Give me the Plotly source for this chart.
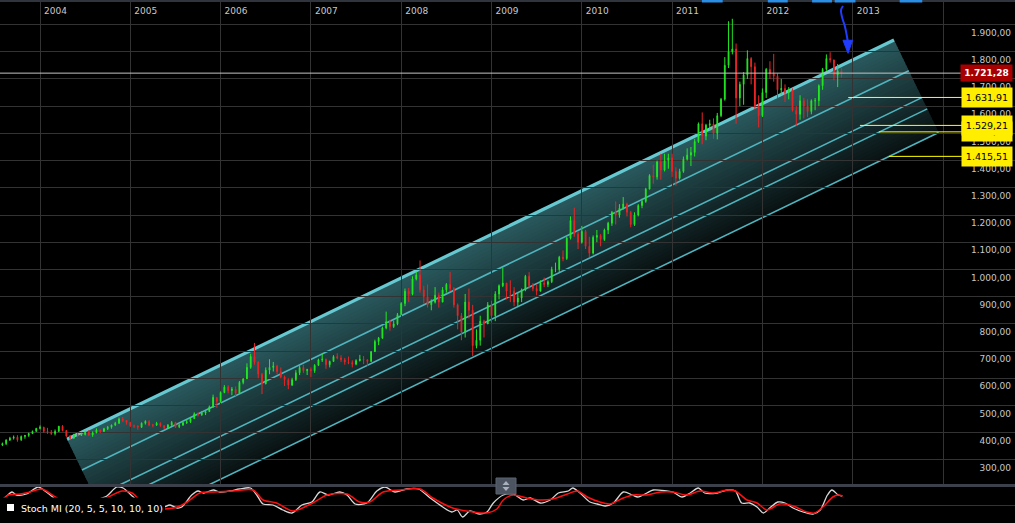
import pandas as pd
import plotly.graph_objects as go

# Gold (USD/oz), semi-monthly bars from 2003-07-15 to 2012-11-15
first_open = 350
bar_high = [
    362, 364, 376, 385, 390, 391, 390, 392, 400, 408, 418,
    427, 422, 418, 410, 412, 425, 428, 410, 392, 396, 399, 400, 408, 410, 405, 416, 412, 418, 425, 430, 440, 456, 458, 446,
    440, 430, 428, 438, 446, 446, 432, 440, 438, 428, 432, 443, 440, 432, 440, 448, 456, 475, 475, 480, 482, 500, 540, 530,
    552, 575, 575, 568, 570, 590, 600, 655, 690, 730, 662, 620, 640, 670, 660, 650, 640, 610, 600, 602, 630, 648, 650, 635,
    640, 652, 672, 690, 672, 665, 685, 692, 685, 675, 680, 666, 670, 686, 682, 670, 700, 742, 752, 790, 845, 815, 812, 840,
    880, 930, 932, 975, 992, 1033, 940, 945, 890, 935, 915, 935, 950, 990, 935, 875, 840, 910, 930, 870, 780, 830, 815, 880,
    885, 920, 945, 1006, 950, 960, 935, 915, 930, 980, 990, 950, 945, 960, 970, 960, 1010, 1025, 1050, 1070, 1120, 1195, 1227, 1140,
    1160, 1145, 1120, 1125, 1145, 1130, 1150, 1175, 1215, 1250, 1240, 1266, 1245, 1215, 1210, 1240, 1260, 1300, 1350, 1385, 1400, 1425, 1425, 1425,
    1425, 1375, 1370, 1415, 1445, 1450, 1480, 1540, 1577, 1535, 1550, 1555, 1575, 1630, 1780, 1912, 1921, 1830, 1690, 1725, 1805, 1780, 1760, 1640,
    1665, 1740, 1765, 1792, 1720, 1700, 1680, 1670, 1665, 1600, 1640, 1630, 1625, 1625, 1630, 1680, 1740, 1790, 1798, 1760, 1755, 1742,
]
bar_low = [
    346, 351, 355, 370, 375, 367, 370, 378, 385, 395, 405,
    412, 400, 396, 392, 390, 404, 405, 385, 373, 378, 385, 389, 390, 388, 385, 398, 399, 403, 410, 415, 425, 432, 440, 430,
    422, 418, 411, 418, 430, 424, 420, 425, 422, 414, 414, 426, 418, 417, 425, 432, 436, 450, 460, 462, 465, 476, 492, 492,
    510, 545, 545, 538, 535, 545, 578, 600, 635, 650, 600, 542, 578, 615, 625, 615, 600, 572, 560, 572, 590, 612, 620, 612,
    605, 620, 645, 660, 635, 640, 660, 670, 660, 650, 652, 640, 648, 662, 652, 645, 662, 698, 722, 745, 780, 775, 785, 795,
    832, 865, 880, 905, 960, 915, 875, 860, 850, 875, 860, 880, 915, 920, 860, 780, 740, 750, 820, 682, 710, 720, 750, 805,
    805, 810, 890, 935, 890, 880, 865, 865, 880, 920, 930, 920, 905, 925, 935, 935, 950, 990, 990, 1030, 1035, 1110, 1120, 1075,
    1095, 1075, 1045, 1055, 1100, 1085, 1105, 1130, 1160, 1165, 1190, 1220, 1195, 1155, 1160, 1195, 1225, 1245, 1295, 1315, 1330, 1330, 1360, 1370,
    1340, 1308, 1330, 1355, 1400, 1380, 1415, 1465, 1460, 1475, 1510, 1480, 1478, 1560, 1620, 1740, 1790, 1535, 1600, 1605, 1700, 1680, 1590, 1522,
    1560, 1630, 1700, 1690, 1630, 1640, 1615, 1625, 1580, 1527, 1550, 1555, 1560, 1570, 1585, 1600, 1660, 1730, 1760, 1695, 1670, 1705,
]
bar_close = [
    355, 360, 373, 380, 384, 374, 386, 390, 397, 405, 416,
    420, 405, 402, 397, 405, 424, 408, 388, 380, 394, 390, 394, 402, 392, 400, 410, 405, 415, 420, 428, 435, 450, 445, 438,
    425, 425, 420, 435, 442, 428, 428, 435, 426, 418, 428, 438, 422, 428, 437, 440, 452, 470, 466, 472, 478, 495, 530, 515,
    548, 568, 555, 560, 545, 585, 598, 640, 680, 660, 615, 580, 630, 640, 645, 625, 605, 595, 575, 595, 620, 640, 628, 632,
    628, 648, 668, 670, 650, 662, 680, 675, 668, 660, 658, 652, 665, 670, 668, 662, 698, 735, 748, 785, 808, 790, 800, 834,
    875, 920, 910, 965, 980, 925, 900, 870, 880, 905, 880, 925, 945, 930, 870, 830, 770, 880, 850, 720, 740, 810, 800, 870,
    830, 910, 940, 950, 920, 920, 880, 895, 925, 975, 940, 930, 920, 950, 945, 955, 1000, 1000, 1045, 1040, 1115, 1180, 1130, 1100,
    1140, 1085, 1060, 1118, 1125, 1110, 1145, 1170, 1210, 1200, 1225, 1240, 1210, 1165, 1200, 1235, 1250, 1295, 1345, 1340, 1395, 1365, 1400, 1410,
    1360, 1335, 1360, 1405, 1420, 1430, 1470, 1535, 1490, 1530, 1535, 1500, 1565, 1625, 1750, 1800, 1810, 1630, 1680, 1715, 1775, 1745, 1600, 1565,
    1650, 1735, 1720, 1710, 1660, 1665, 1650, 1660, 1585, 1570, 1620, 1600, 1580, 1620, 1620, 1675, 1735, 1775, 1770, 1715, 1730, 1721.28,
]

# Stoch MI (20, 5, 5, 10, 10, 10): white line (decimal year, value)
stoch_t = [2003.59, 2003.63, 2003.69, 2003.74, 2003.85, 2003.98, 2004.07, 2004.14, 2004.24, 2004.39,
           2004.55, 2004.66, 2004.74, 2004.85, 2004.92, 2005.02, 2005.11, 2005.22, 2005.31, 2005.38,
           2005.44, 2005.52, 2005.57, 2005.68, 2005.75, 2005.81, 2005.92, 2005.99, 2006.10, 2006.21,
           2006.33, 2006.40, 2006.47, 2006.58, 2006.69, 2006.79, 2006.90, 2007.01, 2007.10, 2007.19,
           2007.32, 2007.40, 2007.49, 2007.62, 2007.73, 2007.82, 2007.93, 2008.06, 2008.19, 2008.32,
           2008.46, 2008.56, 2008.62, 2008.68, 2008.76, 2008.87, 2008.95, 2009.02, 2009.13, 2009.24,
           2009.35, 2009.43, 2009.54, 2009.65, 2009.74, 2009.85, 2009.90, 2009.98, 2010.09, 2010.17,
           2010.26, 2010.35, 2010.46, 2010.56, 2010.62, 2010.72, 2010.79, 2010.94, 2011.01, 2011.11,
           2011.20, 2011.29, 2011.36, 2011.50, 2011.61, 2011.70, 2011.77, 2011.86, 2011.94, 2012.01,
           2012.08, 2012.17, 2012.25, 2012.34, 2012.45, 2012.56, 2012.64, 2012.72, 2012.77, 2012.84, 2012.88]
stoch_k = [18, 27, 39, 30, 33, 54, 39, 24, 0, -15,
           -9, 18, 27, 54, 51, 27, 6, -15, -15, -6,
           0, -9, -6, 30, 42, 36, 45, 39, 42, 48,
           51, 30, 3, 0, -15, -24, 0, 9, 39, 30,
           39, 30, 3, 6, 42, 54, 39, 48, 48, 21,
           -6, -21, -15, -36, -18, -27, -21, 6, 30, 33,
           15, 21, 6, 15, 36, 42, 51, 36, 9, 3,
           -3, 6, 39, 30, 24, 36, 45, 42, 39, 24,
           36, 51, 36, 36, 45, 42, 6, 6, -6, -24,
           -9, 9, 6, -9, -21, -27, -15, 30, 45, 30, 27]

# signal line (red)
signal_t = [2003.59, 2003.65, 2003.78, 2003.89, 2004.02, 2004.17, 2004.28, 2004.44, 2004.61, 2004.72,
            2004.80, 2004.91, 2005.02, 2005.07, 2005.16, 2005.27, 2005.38, 2005.52, 2005.63, 2005.77,
            2005.92, 2006.14, 2006.36, 2006.47, 2006.62, 2006.80, 2007.02, 2007.18, 2007.40, 2007.54,
            2007.65, 2007.80, 2007.99, 2008.21, 2008.35, 2008.57, 2008.80, 2008.95, 2009.06, 2009.13,
            2009.24, 2009.39, 2009.54, 2009.68, 2009.84, 2009.95, 2010.06, 2010.20, 2010.31, 2010.46,
            2010.57, 2010.72, 2010.87, 2011.01, 2011.16, 2011.31, 2011.45, 2011.61, 2011.70, 2011.83,
            2011.94, 2012.05, 2012.19, 2012.34, 2012.49, 2012.58, 2012.67, 2012.78, 2012.84, 2012.89]
signal_d = [15, 30, 33, 39, 48, 24, 6, -12, -3, 18,
            30, 42, 36, 24, 3, -12, -12, -6, 9, 36,
            39, 42, 45, 15, 6, -18, 6, 30, 33, 9,
            9, 39, 45, 48, 21, -9, -21, -24, -12, 15,
            30, 21, 15, 18, 33, 42, 24, 9, 3, 21,
            30, 30, 39, 39, 30, 42, 36, 45, 42, 15,
            6, -15, 3, -3, -21, -24, -6, 24, 30, 27]

# trend channel drawn on the chart (decimal year, price) and parallel offsets below it
channel_start = (2004.30, 376)
channel_end = (2013.457, 1843)
channel_offsets = [0, 139, 261, 312, 419]

# horizontal levels with their price tags
level_prices = [1631.91, 1505.55, 1529.21, 1415.51]
level_start = [2012.95, 2013.29, 2013.08, 2013.40]
last_price = 1721.28

# hand-drawn blue arrow (decimal year, price)
arrow_t = [2012.892, 2012.870, 2012.881, 2012.915, 2012.937, 2012.948]
arrow_p = [1968, 1953, 1928, 1891, 1854, 1832]
arrow_head_t = [2012.892, 2012.948, 2012.998, 2012.892]
arrow_head_p = [1842, 1794, 1842, 1842]

# event markers on the top border (decimal year spans)
marker_spans = [(2011.33, 2011.56), (2012.06, 2012.28), (2012.55, 2012.77), (2012.80, 2013.03), (2013.52, 2013.77)]

year_ticks = list(range(2004, 2015))
price_ticks = list(range(300, 2000, 100))

W, H = 1015, 523
EDGE_SHIFT = 0.00118  # years per $ of offset along the channel's end edge
LABEL_EDGE = 2014.21
FONT = "DejaVu Sans"


def de_fmt(v):
    return f"{v:,.2f}".replace(",", "X").replace(".", ",").replace("X", ".")


def paper(xp, yp):
    return xp / W, 1 - yp / H


dates = pd.date_range("2003-07-15", periods=len(bar_close), freq="SMS")
bar_x = [d.year + (d.month - 1 + (0.5 if d.day >= 15 else 0)) / 12 for d in dates]
bar_open = [first_open] + bar_close[:-1]

fig = go.Figure()
shapes = []

# channel: gradient fill made of thin strips, under the bars
t0, p0 = channel_start
t1, p1 = channel_end
slope = (p1 - p0) / (t1 - t0)


def corner(t, p, d):
    dt = d * EDGE_SHIFT
    return t + dt, p - d + slope * dt


total = channel_offsets[-1]
n_strips = 30
c_top, c_bot = (42, 90, 94), (9, 17, 18)
step = total / n_strips
for i in range(n_strips):
    da, db = step * i, min(step * (i + 1.6), total)
    f = (i + 0.5) / n_strips
    col = tuple(round(a + (b - a) * f) for a, b in zip(c_top, c_bot))
    pts = [corner(t0, p0, da), corner(t1, p1, da), corner(t1, p1, db), corner(t0, p0, db)]
    path = "M " + " L ".join(f"{q[0]},{q[1]}" for q in pts) + " Z"
    shapes.append(dict(type="path", xref="x", yref="y", path=path, fillcolor=f"rgb{col}",
                       line=dict(width=0), layer="below"))

for k, d in enumerate(channel_offsets):
    a, b = corner(t0, p0, d), corner(t1, p1, d)
    shapes.append(dict(type="line", xref="x", yref="y", x0=a[0], y0=a[1], x1=b[0], y1=b[1],
                       line=dict(color="#66c9d2" if k == 0 else "#4fb4be", width=3.2 if k == 0 else 1.6),
                       layer="below"))

fig.add_trace(go.Candlestick(
    x=bar_x, open=bar_open, high=bar_high, low=bar_low, close=bar_close,
    increasing=dict(line=dict(color="#22e822", width=1), fillcolor="#22e822"),
    decreasing=dict(line=dict(color="#ea2424", width=1), fillcolor="#ea2424"),
    whiskerwidth=0, hoverinfo="skip", showlegend=False,
))

fig.add_trace(go.Scatter(
    x=[2003.5, LABEL_EDGE], y=[last_price, last_price], mode="lines",
    line=dict(color="#c4c4c4", width=1), hoverinfo="skip", showlegend=False,
))
for t, p in zip(level_start, level_prices):
    fig.add_trace(go.Scatter(
        x=[t, LABEL_EDGE], y=[p, p], mode="lines",
        line=dict(color="#ffff00", width=1), hoverinfo="skip", showlegend=False,
    ))

fig.add_trace(go.Scatter(
    x=arrow_t, y=arrow_p, mode="lines", line=dict(color="#1f3cff", width=2, shape="spline"),
    hoverinfo="skip", showlegend=False,
))
fig.add_trace(go.Scatter(
    x=arrow_head_t, y=arrow_head_p, mode="lines", fill="toself", fillcolor="#1f3cff",
    line=dict(color="#1f3cff", width=1), hoverinfo="skip", showlegend=False,
))

# Stoch MI panel
fig.add_trace(go.Scatter(
    x=stoch_t, y=stoch_k, mode="lines", line=dict(color="#d8d8d8", width=1.3, shape="spline", smoothing=0.8),
    xaxis="x2", yaxis="y2", hoverinfo="skip", showlegend=False,
))
fig.add_trace(go.Scatter(
    x=signal_t, y=signal_d, mode="lines", line=dict(color="#ff1010", width=1.5, shape="spline", smoothing=0.8),
    xaxis="x2", yaxis="y2", hoverinfo="skip", showlegend=False,
))

# top border and event markers
shapes.append(dict(type="rect", xref="paper", yref="paper", x0=0, x1=1, y0=paper(0, 2)[1], y1=1,
                   fillcolor="#30343c", line=dict(width=0), layer="above"))
for a, b in marker_spans:
    shapes.append(dict(type="rect", xref="x", yref="paper", x0=a, x1=b, y0=paper(0, 2.5)[1], y1=1,
                       fillcolor="#2a8ee6", line=dict(width=0), layer="above"))
# separator between panels
shapes.append(dict(type="rect", xref="paper", yref="paper", x0=0, x1=1, y0=paper(0, 487)[1], y1=paper(0, 484)[1],
                   fillcolor="#3b404a", line=dict(width=0), layer="above"))
# legend background of the indicator panel
shapes.append(dict(type="rect", xref="paper", yref="paper", x0=0, x1=paper(165, 0)[0], y0=0, y1=paper(0, 497.5)[1],
                   fillcolor="#000000", line=dict(width=0), layer="above"))
shapes.append(dict(type="rect", xref="paper", yref="paper", x0=paper(7, 0)[0], x1=paper(14, 0)[0],
                   y0=paper(0, 511)[1], y1=paper(0, 504)[1], fillcolor="#ffffff", line=dict(width=0), layer="above"))
# scroll handle
hx0, hy0 = paper(496, 494)
hx1, hy1 = paper(516, 478)
shapes.append(dict(type="rect", xref="paper", yref="paper", x0=hx0, x1=hx1, y0=hy0, y1=hy1,
                   fillcolor="#4c5461", line=dict(color="#5a6270", width=1), layer="above"))
ux, uy1 = paper(506, 481)
_, uy2 = paper(0, 485)
lx, ly = paper(502.5, 0)
rx, _ = paper(509.5, 0)
shapes.append(dict(type="path", xref="paper", yref="paper", path=f"M {lx} {uy2} L {ux} {uy1} L {rx} {uy2} Z",
                   fillcolor="#a9b1bd", line=dict(width=0), layer="above"))
_, dy1 = paper(0, 491)
_, dy2 = paper(0, 487)
shapes.append(dict(type="path", xref="paper", yref="paper", path=f"M {lx} {dy2} L {ux} {dy1} L {rx} {dy2} Z",
                   fillcolor="#a9b1bd", line=dict(width=0), layer="above"))

annotations = [dict(
    xref="paper", yref="paper", x=paper(19, 0)[0], y=paper(0, 508)[1], xanchor="left", yanchor="middle",
    text="Stoch MI (20, 5, 5, 10, 10, 10)", showarrow=False, font=dict(family=FONT, size=9.5, color="#ffffff"),
)]
annotations.append(dict(
    xref="paper", yref="y", x=paper(1013, 0)[0], y=last_price, xanchor="right", yanchor="middle",
    text=f"<b>{de_fmt(last_price)}</b>", showarrow=False, bgcolor="#a80000", borderpad=2,
    width=47, height=12, align="center", font=dict(family=FONT, size=9, color="#ffffff"),
))
for p in level_prices:
    annotations.append(dict(
        xref="paper", yref="y", x=paper(1013, 0)[0], y=p, xanchor="right", yanchor="middle",
        text=de_fmt(p), showarrow=False, bgcolor="#ffee00", borderpad=2,
        width=46, height=15, align="center", font=dict(family=FONT, size=9.5, color="#000000"),
    ))

main_bottom = paper(0, 485)[1]
fig.update_layout(
    width=W, height=H,
    margin=dict(l=0, r=0, t=0, b=0),
    paper_bgcolor="#000000", plot_bgcolor="#000000",
    font=dict(family=FONT, size=9, color="#c8c8c8"),
    hovermode=False,
    showlegend=False,
    boxgap=0.7,
    shapes=shapes,
    annotations=annotations,
    xaxis=dict(
        range=[2003.557, 2014.797], side="top", anchor="y",
        tickvals=year_ticks, ticktext=[str(y) if y < 2014 else "" for y in year_ticks],
        ticklabelposition="inside right", ticklabelshift=4, ticklabelstandoff=2, ticks="",
        showline=False, zeroline=False,
        showgrid=True, gridcolor="#333333", gridwidth=1,
        tickfont=dict(family=FONT, size=9, color="#c8c8c8"),
        rangeslider=dict(visible=False), fixedrange=True,
    ),
    yaxis=dict(
        domain=[main_bottom, 1], range=[208, 1990], side="right", anchor="x",
        tickvals=price_ticks, ticktext=[de_fmt(v) for v in price_ticks],
        ticklabelposition="inside", ticklabelshift=8, ticklabelstandoff=1, ticks="",
        showline=False, zeroline=False, showgrid=True, gridcolor="#333333", gridwidth=1,
        tickfont=dict(family=FONT, size=9, color="#c8c8c8"), fixedrange=True,
    ),
    xaxis2=dict(
        matches="x", anchor="y2", visible=False, showgrid=False, zeroline=False,
        rangeslider=dict(visible=False),
    ),
    yaxis2=dict(
        domain=[0, paper(0, 487)[1]], range=[-54, 54], anchor="x2",
        tickvals=[0], showticklabels=False, ticks="", showgrid=True, gridcolor="#333333",
        zeroline=False, showline=False, fixedrange=True,
    ),
)

fig.write_html(
    "out.html",
    config={"displayModeBar": False},
    post_script="document.body.style.margin='0';document.body.style.overflow='hidden';",
)
